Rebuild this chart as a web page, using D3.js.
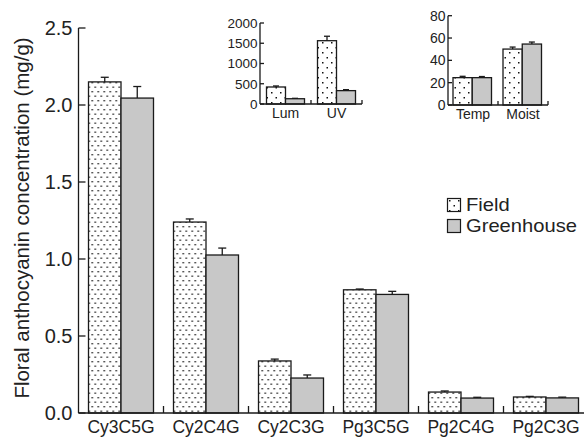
<!DOCTYPE html>
<meta charset="utf-8">
<script src="https://d3js.org/d3.v7.min.js"></script>
<style>
  body { margin: 0; background: #fff; }
  text { font-family: "Liberation Sans", Arial, sans-serif; fill: #222; }
</style>
<div id="chart"></div>
<script>
  // main chart data
  var categories = ["Cy3C5G", "Cy2C4G", "Cy2C3G", "Pg3C5G", "Pg2C4G", "Pg2C3G"];
  var series = ["Field", "Greenhouse"];
  var fieldValues = [2.15, 1.24, 0.338, 0.80, 0.136, 0.104];
  var fieldErrors = [0.03, 0.02, 0.012, 0.005, 0.007, 0.004];
  var greenValues = [2.045, 1.026, 0.227, 0.77, 0.097, 0.098];
  var greenErrors = [0.075, 0.045, 0.02, 0.02, 0.005, 0.005];
  var yTicks = [0, 0.5, 1.0, 1.5, 2.0, 2.5];

  // inset 1: light
  var lightCats = ["Lum", "UV"];
  var lightField = [420, 1563];
  var lightFieldErr = [25, 110];
  var lightGreen = [130, 330];
  var lightGreenErr = [10, 25];
  var lightTicks = [0, 500, 1000, 1500, 2000];

  // inset 2: temp / moisture
  var envCats = ["Temp", "Moist"];
  var envField = [24.5, 50.1];
  var envFieldErr = [1.2, 1.8];
  var envGreen = [24.5, 54.6];
  var envGreenErr = [1.0, 1.8];
  var envTicks = [0, 20, 40, 60, 80];

  var W = 584, H = 439;
  var svg = d3.select("#chart").append("svg")
    .attr("width", W).attr("height", H);

  // dot patterns for the field bars
  var defs = svg.append("defs");
  function dotPattern(id, w, h, d1, d2, r) {
    var p = defs.append("pattern").attr("id", id)
      .attr("patternUnits", "userSpaceOnUse")
      .attr("width", w).attr("height", h);
    p.append("rect").attr("width", w).attr("height", h).attr("fill", "#fff");
    [d1, d2].forEach(function (d) {
      p.append("rect").attr("x", d[0]).attr("y", d[1])
        .attr("width", r).attr("height", r).attr("fill", "#111");
    });
  }
  dotPattern("dotsMain", 6, 9, [1, 1], [4, 5.5], 1.4);
  dotPattern("dotsInset", 9, 10, [2, 2], [6.5, 7], 1.5);

  var fills = { Field: null, Greenhouse: "#c8c8c8" };

  function drawBars(g, cats, x0, x1, y, fv, fe, gv, ge, patId, cap) {
    var rows = cats.map(function (c, i) {
      return [
        { cat: c, s: "Field", v: fv[i], e: fe[i] },
        { cat: c, s: "Greenhouse", v: gv[i], e: ge[i] }
      ];
    });
    var grp = g.selectAll("g.grp").data(rows).enter().append("g")
      .attr("transform", function (d) { return "translate(" + x0(d[0].cat) + ",0)"; });
    grp.selectAll("rect").data(function (d) { return d; }).enter().append("rect")
      .attr("x", function (d) { return x1(d.s); })
      .attr("y", function (d) { return y(d.v); })
      .attr("width", x1.bandwidth())
      .attr("height", function (d) { return y(0) - y(d.v); })
      .attr("fill", function (d) { return d.s == "Field" ? "url(#" + patId + ")" : fills.Greenhouse; })
      .attr("stroke", "#1a1a1a")
      .attr("stroke-width", 1.3);
    // error bars
    var eb = grp.selectAll("g.err").data(function (d) { return d; }).enter().append("g")
      .attr("stroke", "#1a1a1a").attr("stroke-width", 1.3);
    eb.append("line")
      .attr("x1", function (d) { return x1(d.s) + x1.bandwidth() / 2; })
      .attr("x2", function (d) { return x1(d.s) + x1.bandwidth() / 2; })
      .attr("y1", function (d) { return y(d.v); })
      .attr("y2", function (d) { return y(d.v + d.e); });
    eb.append("line")
      .attr("x1", function (d) { return x1(d.s) + x1.bandwidth() / 2 - cap; })
      .attr("x2", function (d) { return x1(d.s) + x1.bandwidth() / 2 + cap; })
      .attr("y1", function (d) { return y(d.v + d.e); })
      .attr("y2", function (d) { return y(d.v + d.e); });
  }

  function drawAxes(g, x0, y, ticks, tickLen, fontSize, pad, labelY, labelSize, rightEnd) {
    var xl = x0.range()[0], xr = rightEnd;
    var axisG = g.append("g").attr("stroke", "#1a1a1a").attr("stroke-width", 1.3);
    axisG.append("line").attr("x1", xl).attr("x2", xl)
      .attr("y1", y(0)).attr("y2", y(ticks[ticks.length - 1]));
    axisG.append("line").attr("x1", xl).attr("x2", xr)
      .attr("y1", y(0)).attr("y2", y(0));
    axisG.selectAll("line.yt").data(ticks).enter().append("line")
      .attr("x1", xl).attr("x2", xl + tickLen)
      .attr("y1", function (d) { return y(d); })
      .attr("y2", function (d) { return y(d); });
    // group separators on x axis
    axisG.selectAll("line.xt").data(x0.domain().slice(1).concat(["__end"])).enter().append("line")
      .attr("x1", function (d) { return d == "__end" ? xl + x0.step() * x0.domain().length : x0(d); })
      .attr("x2", function (d) { return d == "__end" ? xl + x0.step() * x0.domain().length : x0(d); })
      .attr("y1", y(0)).attr("y2", y(0) - tickLen);
    g.selectAll("text.yl").data(ticks).enter().append("text")
      .attr("x", xl - pad)
      .attr("y", function (d) { return y(d); })
      .attr("dy", "0.36em")
      .attr("text-anchor", "end")
      .style("font-size", fontSize + "px")
      .text(function (d) { return ticks.fmt ? ticks.fmt(d) : d; });
    g.selectAll("text.xl").data(x0.domain()).enter().append("text")
      .attr("x", function (d) { return x0(d) + x0.bandwidth() / 2; })
      .attr("y", labelY)
      .attr("text-anchor", "middle")
      .style("font-size", labelSize + "px")
      .text(function (d) { return d; });
  }

  // ---- main chart
  var main = svg.append("g");
  var x0 = d3.scaleBand().domain(categories).range([78.5, 78.5 + 85 * categories.length]);
  var x1 = d3.scaleBand().domain(series).range([10, 75]);
  var y = d3.scaleLinear().domain([0, 2.5]).range([413, 28]);
  yTicks.fmt = d3.format(".1f");
  drawBars(main, categories, x0, x1, y, fieldValues, fieldErrors, greenValues, greenErrors, "dotsMain", 4);
  drawAxes(main, x0, y, yTicks, 7, 20, 6, 433, 17.5, W + 10);

  main.append("text")
    .attr("transform", "translate(29,218) rotate(-90)")
    .attr("text-anchor", "middle")
    .style("font-size", "20.5px")
    .text("Floral anthocyanin concentration (mg/g)");

  // ---- inset 1
  var in1 = svg.append("g");
  var ax0 = d3.scaleBand().domain(lightCats).range([260, 362]);
  var ax1 = d3.scaleBand().domain(series).range([6.5, 44.5]);
  var ay = d3.scaleLinear().domain([0, 2000]).range([104, 23]);
  drawBars(in1, lightCats, ax0, ax1, ay, lightField, lightFieldErr, lightGreen, lightGreenErr, "dotsInset", 3);
  drawAxes(in1, ax0, ay, lightTicks, 4, 13.5, 2.5, 118, 14, 362);

  // ---- inset 2
  var in2 = svg.append("g");
  var bx0 = d3.scaleBand().domain(envCats).range([448, 548]);
  var bx1 = d3.scaleBand().domain(series).range([5, 43.5]);
  var by = d3.scaleLinear().domain([0, 80]).range([105, 15.7]);
  drawBars(in2, envCats, bx0, bx1, by, envField, envFieldErr, envGreen, envGreenErr, "dotsInset", 3);
  drawAxes(in2, bx0, by, envTicks, 4, 14, 2.5, 119, 14, 548);

  // ---- legend
  var legend = svg.append("g").attr("transform", "translate(447,198)");
  var li = legend.selectAll("g").data(series).enter().append("g")
    .attr("transform", function (d, i) { return "translate(0," + (i * 21) + ")"; });
  li.append("rect")
    .attr("x", 0.5).attr("y", 0.5).attr("width", 13).attr("height", 13)
    .attr("fill", function (d) { return d == "Field" ? "url(#dotsInset)" : fills.Greenhouse; })
    .attr("stroke", "#1a1a1a").attr("stroke-width", 1.2);
  li.append("text")
    .attr("transform", "translate(19,13) scale(1.12,1)")
    .style("font-size", "18px")
    .text(function (d) { return d; });
</script>
